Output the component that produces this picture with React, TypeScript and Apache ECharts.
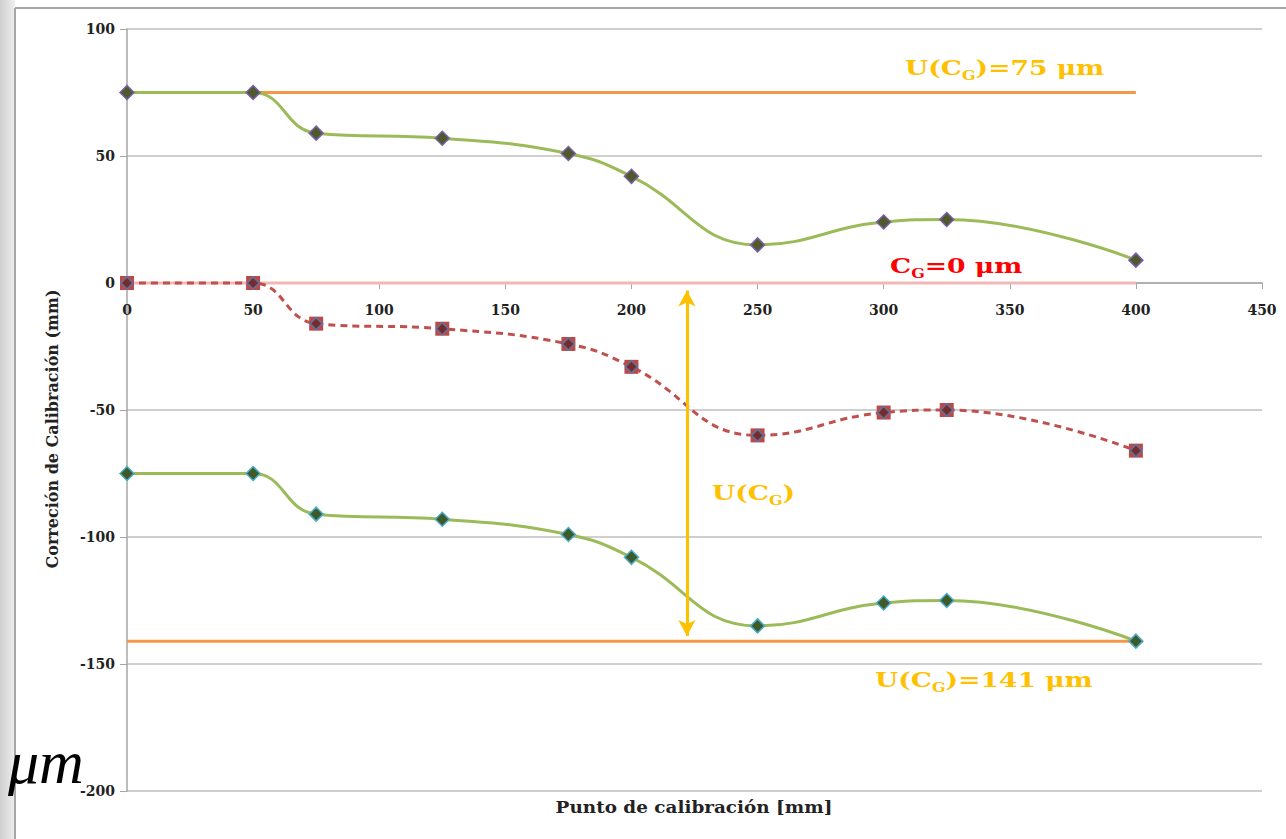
import React, { useEffect, useRef } from "react";
import * as echarts from "echarts";

const xPoints = [0, 50, 75, 125, 175, 200, 250, 300, 325, 400];
const upperValues = [75, 75, 59, 57, 51, 42, 15, 24, 25, 9];
const correctionValues = [0, 0, -16, -18, -24, -33, -60, -51, -50, -66];
const lowerValues = [-75, -75, -91, -93, -99, -108, -135, -126, -125, -141];
const upperLimit = 75;
const zeroLine = 0;
const lowerLimit = -141;
const lineStart = 0;
const lineEnd = 400;
const arrowX = 222;
const arrowFrom = -3;
const arrowTo = -139;
const yMin = -200;
const yMax = 100;

const SERIF = "'DejaVu Serif', 'Liberation Serif', serif";

function pairs(ys: number[]) {
  return xPoints.map((x, i) => [x, ys[i]]);
}

function richLabel(pre: string, post: string, color: string, size: number) {
  return {
    text: `{a|${pre}}{s|G}{a|${post}}`,
    rich: {
      a: { fontFamily: SERIF, fontSize: size, fontWeight: "bold", fill: color, lineHeight: size + 8 },
      s: {
        fontFamily: SERIF,
        fontSize: Math.round(size * 0.62),
        fontWeight: "bold",
        fill: color,
        lineHeight: Math.round(size * 0.7),
        verticalAlign: "bottom",
      },
    },
    fill: color,
    verticalAlign: "middle",
  };
}

export default function App() {
  const ref = useRef<HTMLDivElement>(null);
  useEffect(() => {
    if (!ref.current) return;
    const chart = echarts.init(ref.current, undefined, { renderer: "svg" });
    const gold = "#ffc000";
    const labelScale = 1.33;
    const gridTop = 29;
    const gridBottom = 48;
    const plotH = 839 - gridTop - gridBottom;
    const zeroOffset = -(plotH * (0 - yMin)) / (yMax - yMin);
    chart.setOption({
      animation: false,
      backgroundColor: "#ffffff",
      grid: { left: 127, right: 24, top: gridTop, bottom: gridBottom, containLabel: false },
      xAxis: {
        type: "value",
        min: 0,
        max: 450,
        interval: 50,
        position: "bottom",
        offset: zeroOffset,
        axisLine: { show: true, onZero: false, lineStyle: { color: "#a6a6a6", width: 1.5 } },
        axisTick: { show: true, length: 6, lineStyle: { color: "#a6a6a6" } },
        axisLabel: { fontFamily: SERIF, fontSize: 14, fontWeight: "bold", color: "#222", margin: 20 },
        splitLine: { show: false },
      },
      yAxis: {
        type: "value",
        min: yMin,
        max: yMax,
        interval: 50,
        axisLine: { show: true, onZero: false, lineStyle: { color: "#a6a6a6", width: 1.5 } },
        axisTick: { show: true, length: 7, lineStyle: { color: "#a6a6a6" } },
        axisLabel: { fontFamily: SERIF, fontSize: 14, fontWeight: "bold", color: "#222", margin: 12 },
        splitLine: { show: true, lineStyle: { color: "#bfbfbf", width: 1.5 } },
      },
      series: [
        {
          type: "line",
          data: [[lineStart, upperLimit], [lineEnd, upperLimit]],
          symbol: "none",
          lineStyle: { color: "#f79646", width: 3 },
          z: 2,
          silent: true,
        },
        {
          type: "line",
          data: [[lineStart, zeroLine], [lineEnd, zeroLine]],
          symbol: "none",
          lineStyle: { color: "#f2b8b8", width: 3 },
          z: 2,
          silent: true,
          markLine: {
            silent: true,
            symbol: ["arrow", "arrow"],
            symbolSize: [13, 16],
            label: { show: false },
            lineStyle: { color: gold, width: 3, type: "solid" },
            data: [[{ coord: [arrowX, arrowFrom] }, { coord: [arrowX, arrowTo] }]],
          },
        },
        {
          type: "line",
          data: [[lineStart, lowerLimit], [lineEnd, lowerLimit]],
          symbol: "none",
          lineStyle: { color: "#f79646", width: 3 },
          z: 2,
          silent: true,
        },
        {
          type: "line",
          data: pairs(upperValues),
          smooth: 0.45,
          symbol: "diamond",
          symbolSize: 14,
          lineStyle: { color: "#9bbb59", width: 3 },
          itemStyle: { color: "#4e5a2c", borderColor: "#7b5ea7", borderWidth: 1.5 },
          z: 3,
        },
        {
          type: "line",
          data: pairs(correctionValues),
          smooth: 0.45,
          symbol: "rect",
          symbolSize: 14,
          lineStyle: { color: "#c0504d", width: 3, type: [7, 5] },
          itemStyle: { color: "#b94a48" },
          z: 3,
        },
        {
          type: "scatter",
          data: pairs(correctionValues),
          symbol: "diamond",
          symbolSize: 12,
          itemStyle: { color: "#632523", borderColor: "#4f81bd", borderWidth: 1.5 },
          z: 4,
        },
        {
          type: "line",
          data: pairs(lowerValues),
          smooth: 0.45,
          symbol: "diamond",
          symbolSize: 14,
          lineStyle: { color: "#9bbb59", width: 3 },
          itemStyle: { color: "#3f5a2a", borderColor: "#4bacc6", borderWidth: 1.5 },
          z: 3,
        },
      ],
      graphic: [
        {
          type: "rect",
          left: 0,
          top: 0,
          shape: { width: 15, height: 839 },
          style: {
            fill: new echarts.graphic.LinearGradient(0, 0, 1, 0, [
              { offset: 0, color: "#cfcfcf" },
              { offset: 1, color: "#efefef" },
            ]),
          },
          silent: true,
        },
        {
          type: "line",
          shape: { x1: 15, y1: 8, x2: 1286, y2: 8 },
          style: { stroke: "#a6a6a6", lineWidth: 2 },
          silent: true,
        },
        {
          type: "line",
          shape: { x1: 15, y1: 8, x2: 15, y2: 839 },
          style: { stroke: "#a6a6a6", lineWidth: 2 },
          silent: true,
        },
        {
          type: "text",
          x: 905,
          y: 68,
          scaleX: labelScale,
          style: richLabel("U(C", ")=75 μm", gold, 20),
          silent: true,
        },
        {
          type: "text",
          x: 890,
          y: 266,
          scaleX: labelScale,
          style: richLabel("C", "=0 μm", "#ff0000", 20),
          silent: true,
        },
        {
          type: "text",
          x: 712,
          y: 493,
          scaleX: labelScale,
          style: richLabel("U(C", ")", gold, 20),
          silent: true,
        },
        {
          type: "text",
          x: 875,
          y: 680,
          scaleX: labelScale,
          style: richLabel("U(C", ")=141 μm", gold, 20),
          silent: true,
        },
        {
          type: "text",
          x: 52,
          y: 429,
          rotation: Math.PI / 2,
          style: {
            text: "Correción de Calibración (mm)",
            fontFamily: SERIF,
            fontSize: 16,
            fontWeight: "bold",
            fill: "#222",
            align: "center",
            verticalAlign: "middle",
          },
          silent: true,
        },
        {
          type: "text",
          x: 694,
          y: 807,
          scaleX: 1.15,
          style: {
            text: "Punto de calibración [mm]",
            fontFamily: SERIF,
            fontSize: 16,
            fontWeight: "bold",
            fill: "#222",
            align: "center",
            verticalAlign: "middle",
          },
          silent: true,
        },
        {
          type: "text",
          x: 8,
          y: 762,
          style: {
            text: "μm",
            fontFamily: "'Liberation Serif', serif",
            fontSize: 62,
            fontStyle: "italic",
            fill: "#000",
            align: "left",
            verticalAlign: "middle",
          },
          silent: true,
        },
      ],
    });
    return () => chart.dispose();
  }, []);
  return (
    <div
      ref={ref}
      style={{ position: "fixed", left: 0, top: 0, width: 1286, height: 839, background: "#fff" }}
    />
  );
}
